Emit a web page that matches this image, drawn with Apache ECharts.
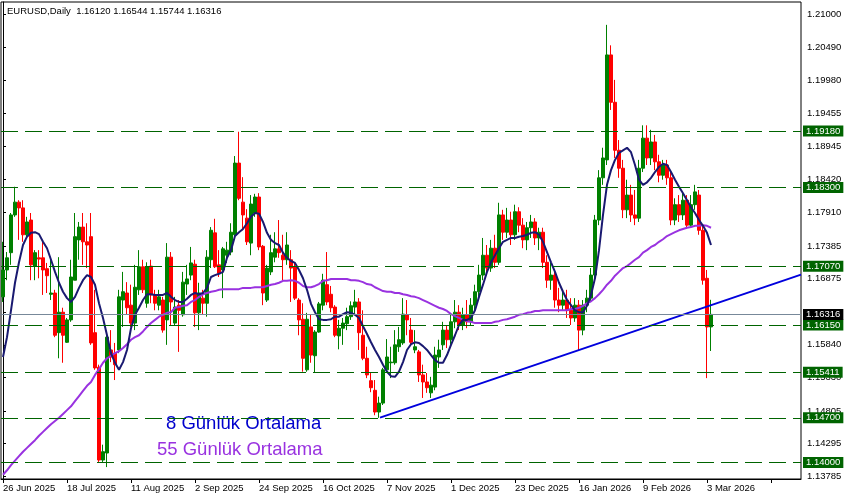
<!DOCTYPE html>
<html><head><meta charset="utf-8">
<script src="https://cdn.jsdelivr.net/npm/echarts@6/dist/echarts.min.js"></script>
<style>html,body{margin:0;padding:0;background:#fff}#c{width:847px;height:500px}</style>
</head><body><div id="c"></div>
<script>
const symbolName = 'EURUSD,Daily';
const lastQuote = [1.16120, 1.16544, 1.15744, 1.16316];
const dateLabels = ['26 Jun 2025','18 Jul 2025','11 Aug 2025','2 Sep 2025','24 Sep 2025','16 Oct 2025','7 Nov 2025','1 Dec 2025','23 Dec 2025','16 Jan 2026','9 Feb 2026','3 Mar 2026'];
const labelEvery = 16;
const slotCount = 200;

const open = [
1.1659,1.1701,1.1728,1.1787,1.1807,1.1798,1.1756,1.1779,1.1707,1.1720,
1.1720,1.1703,1.1663,1.1665,1.1603,1.1635,1.1588,1.1623,1.1685,1.1748,
1.1768,1.1745,1.1753,1.1603,1.1549,1.1404,1.1415,1.1576,1.1571,1.1576,
1.1654,1.1665,1.1646,1.1618,1.1670,1.1706,1.1649,1.1707,1.1662,1.1646,
1.1654,1.1623,1.1721,1.1618,1.1646,1.1631,1.1679,1.1693,1.1710,1.1634,
1.1657,1.1649,1.1717,1.1759,1.1709,1.1701,1.1724,1.1729,1.1756,1.1868,
1.1807,1.1782,1.1743,1.1790,1.1815,1.1738,1.1654,1.1698,1.1721,1.1734,
1.1724,1.1717,1.1717,1.1706,1.1654,1.1624,1.1545,1.1612,1.1567,1.1604,
1.1646,1.1678,1.1663,1.1643,1.1598,1.1610,1.1617,1.1628,1.1643,1.1651,
1.1599,1.1563,1.1528,1.1513,1.1479,1.1493,1.1545,1.1556,1.1556,1.1581,
1.1587,1.1631,1.1607,1.1576,1.1573,1.1537,1.1526,1.1509,1.1518,1.1565,
1.1584,1.1607,1.1592,1.1620,1.1635,1.1615,1.1631,1.1620,1.1646,1.1667,
1.1693,1.1724,1.1704,1.1735,1.1713,1.1787,1.1760,1.1779,1.1756,1.1792,
1.1771,1.1748,1.1767,1.1776,1.1751,1.1760,1.1713,1.1685,1.1693,1.1654,
1.1646,1.1654,1.1638,1.1626,1.1646,1.1607,1.1646,1.1657,1.1693,1.1779,
1.1845,1.1873,1.2037,1.1963,1.1888,1.1860,1.1795,1.1818,1.1787,1.1782,
1.1860,1.1907,1.1876,1.1901,1.1870,1.1849,1.1865,1.1845,1.1779,1.1803,
1.1787,1.1810,1.1771,1.1803,1.1818,1.1763,1.1688,1.16120];
const close = [
1.1701,1.1720,1.1787,1.1807,1.1798,1.1756,1.1776,1.1709,1.1728,1.1718,
1.1701,1.1692,1.1665,1.1599,1.1635,1.1599,1.1623,1.1690,1.1753,1.1768,
1.1745,1.1740,1.1587,1.1548,1.1404,1.1417,1.1596,1.1565,1.1553,1.1659,
1.1667,1.1642,1.1618,1.1674,1.1706,1.1670,1.1706,1.1662,1.1649,1.1659,
1.1607,1.1721,1.1651,1.1643,1.1638,1.1682,1.1687,1.1712,1.1634,1.1665,
1.1649,1.1721,1.1763,1.1706,1.1696,1.1734,1.1732,1.1760,1.1868,1.1813,
1.1787,1.1745,1.1804,1.1815,1.1737,1.1665,1.1704,1.1728,1.1734,1.1728,
1.1717,1.1740,1.1704,1.1657,1.1623,1.1563,1.1624,1.1568,1.1604,1.1648,
1.1685,1.1651,1.1642,1.1599,1.1610,1.1618,1.1628,1.1645,1.1651,1.1603,
1.1563,1.1537,1.1517,1.1479,1.1493,1.1545,1.1565,1.1557,1.1584,1.1592,
1.1632,1.1623,1.1588,1.1581,1.1537,1.1526,1.1517,1.1521,1.1568,1.1576,
1.1607,1.1592,1.1620,1.1635,1.1615,1.1631,1.1620,1.1646,1.1667,1.1693,
1.1724,1.1704,1.1735,1.1713,1.1787,1.1760,1.1779,1.1756,1.1792,1.1771,
1.1748,1.1767,1.1776,1.1751,1.1760,1.1713,1.1685,1.1693,1.1654,1.1646,
1.1654,1.1638,1.1626,1.1646,1.1607,1.1646,1.1657,1.1693,1.1779,1.1845,
1.1876,1.2037,1.1963,1.1888,1.1860,1.1795,1.1818,1.1787,1.1782,1.1860,
1.1907,1.1876,1.1901,1.1870,1.1849,1.1865,1.1845,1.1779,1.1803,1.1787,
1.1810,1.1771,1.1803,1.1823,1.1763,1.1685,1.1612,1.16316];
const low = [
1.1651,1.1685,1.1709,1.1784,1.1748,1.1745,1.1753,1.1685,1.1685,1.1688,
1.1662,1.1665,1.1654,1.1596,1.1563,1.1556,1.1587,1.1620,1.1685,1.1717,
1.1709,1.1704,1.1584,1.1545,1.1401,1.1401,1.1393,1.1557,1.1529,1.1571,
1.1612,1.1631,1.1612,1.1607,1.1662,1.1665,1.1642,1.1649,1.1638,1.1638,
1.1603,1.1584,1.1615,1.1615,1.1573,1.1628,1.1662,1.1685,1.1612,1.1607,
1.1631,1.1628,1.1704,1.1704,1.1690,1.1657,1.1712,1.1724,1.1753,1.1810,
1.1763,1.1740,1.1724,1.1784,1.1732,1.1646,1.1651,1.1693,1.1713,1.1720,
1.1685,1.1709,1.1651,1.1654,1.1599,1.1542,1.1542,1.1556,1.1540,1.1603,
1.1638,1.1646,1.1635,1.1596,1.1577,1.1584,1.1607,1.1623,1.1631,1.1576,
1.1560,1.1532,1.1510,1.1474,1.1470,1.1490,1.1542,1.1532,1.1553,1.1573,
1.1584,1.1599,1.1584,1.1571,1.1526,1.1501,1.1509,1.1501,1.1513,1.1548,
1.1576,1.1579,1.1584,1.1610,1.1607,1.1607,1.1610,1.1615,1.1638,1.1657,
1.1685,1.1693,1.1698,1.1704,1.1709,1.1748,1.1751,1.1740,1.1748,1.1760,
1.1735,1.1732,1.1751,1.1740,1.1732,1.1704,1.1673,1.1670,1.1642,1.1635,
1.1638,1.1626,1.1615,1.1620,1.1576,1.1599,1.1635,1.1651,1.1685,1.1771,
1.1834,1.1865,1.1951,1.1876,1.1845,1.1782,1.1782,1.1776,1.1771,1.1776,
1.1854,1.1865,1.1865,1.1857,1.1838,1.1842,1.1834,1.1771,1.1771,1.1776,
1.1779,1.1767,1.1767,1.1795,1.1756,1.1678,1.1532,1.15744];
const high = [
1.1745,1.1729,1.1790,1.1831,1.1810,1.1810,1.1784,1.1790,1.1732,1.1732,
1.1745,1.1712,1.1721,1.1670,1.1721,1.1642,1.1626,1.1717,1.1790,1.1776,
1.1790,1.1774,1.1790,1.1670,1.1553,1.1428,1.1599,1.1607,1.1587,1.1670,
1.1698,1.1682,1.1678,1.1709,1.1732,1.1717,1.1713,1.1717,1.1670,1.1670,
1.1659,1.1743,1.1729,1.1659,1.1654,1.1698,1.1709,1.1737,1.1717,1.1681,
1.1670,1.1732,1.1768,1.1781,1.1732,1.1737,1.1745,1.1774,1.1879,1.1917,
1.1846,1.1796,1.1818,1.1820,1.1821,1.1740,1.1709,1.1756,1.1760,1.1779,
1.1756,1.1760,1.1732,1.1713,1.1657,1.1649,1.1634,1.1631,1.1607,1.1651,
1.1695,1.1729,1.1676,1.1646,1.1623,1.1626,1.1642,1.1652,1.1670,1.1657,
1.1638,1.1581,1.1540,1.1529,1.1503,1.1548,1.1593,1.1581,1.1607,1.1612,
1.1657,1.1654,1.1626,1.1607,1.1576,1.1553,1.1540,1.1534,1.1581,1.1592,
1.1620,1.1615,1.1631,1.1654,1.1646,1.1642,1.1654,1.1657,1.1678,1.1709,
1.1751,1.1740,1.1748,1.1756,1.1806,1.1795,1.1798,1.1792,1.1803,1.1799,
1.1782,1.1776,1.1787,1.1782,1.1767,1.1767,1.1724,1.1713,1.1701,1.1673,
1.1667,1.1670,1.1657,1.1657,1.1654,1.1654,1.1670,1.1704,1.1787,1.1857,
1.1892,1.2084,1.2052,1.1998,1.1904,1.1873,1.1842,1.1834,1.1826,1.1873,
1.1927,1.1927,1.1920,1.1912,1.1881,1.1873,1.1873,1.1854,1.1813,1.1818,
1.1823,1.1818,1.1818,1.1834,1.1826,1.1771,1.1701,1.16544];
const ma8 = [
1.1565,1.1596,1.1638,1.1681,1.1713,1.1740,1.1753,1.1759,1.1760,1.1757,
1.1745,1.1735,1.1717,1.1698,1.1681,1.1667,1.1657,1.1651,1.1659,1.1673,
1.1685,1.1693,1.1690,1.1678,1.1649,1.1626,1.1599,1.1571,1.1556,1.1545,
1.1557,1.1576,1.1610,1.1631,1.1642,1.1654,1.1663,1.1663,1.1662,1.1662,
1.1662,1.1665,1.1659,1.1654,1.1651,1.1651,1.1656,1.1662,1.1665,1.1663,
1.1665,1.1673,1.1690,1.1693,1.1695,1.1698,1.1720,1.1732,1.1754,1.1760,
1.1765,1.1774,1.1784,1.1790,1.1789,1.1776,1.1759,1.1748,1.1743,1.1740,
1.1728,1.1720,1.1715,1.1712,1.1701,1.1688,1.1670,1.1648,1.1635,1.1624,
1.1623,1.1623,1.1624,1.1628,1.1628,1.1632,1.1635,1.1634,1.1631,1.1626,
1.1613,1.1601,1.1588,1.1576,1.1565,1.1553,1.1542,1.1535,1.1534,1.1542,
1.1557,1.1576,1.1585,1.1588,1.1587,1.1582,1.1576,1.1568,1.1560,1.1556,
1.1556,1.1568,1.1584,1.1599,1.1615,1.1623,1.1623,1.1626,1.1638,1.1659,
1.1678,1.1698,1.1713,1.1724,1.1735,1.1745,1.1748,1.1751,1.1751,1.1753,
1.1754,1.1756,1.1759,1.1760,1.1756,1.1745,1.1729,1.1713,1.1698,1.1681,
1.1667,1.1654,1.1646,1.1638,1.1635,1.1635,1.1645,1.1662,1.1688,1.1732,
1.1787,1.1834,1.1857,1.1873,1.1884,1.1888,1.1892,1.1885,1.1865,1.1842,
1.1834,1.1838,1.1845,1.1854,1.1862,1.1867,1.1865,1.1854,1.1842,1.1831,
1.1821,1.1810,1.1799,1.1790,1.1779,1.1770,1.1759,1.1740];
const ma55 = [
1.1381,1.1388,1.1396,1.1403,1.1410,1.1417,1.1423,1.1429,1.1435,1.1442,
1.1448,1.1454,1.1460,1.1465,1.1470,1.1476,1.1482,1.1488,1.1496,1.1504,
1.1512,1.1520,1.1526,1.1537,1.1546,1.1556,1.1563,1.1567,1.1571,1.1574,
1.1579,1.1585,1.1592,1.1596,1.1599,1.1605,1.1612,1.1618,1.1623,1.1628,
1.1631,1.1634,1.1635,1.1642,1.1643,1.1645,1.1646,1.1651,1.1654,1.1659,
1.1663,1.1665,1.1667,1.1668,1.1670,1.1671,1.1671,1.1671,1.1671,1.1671,
1.1673,1.1673,1.1673,1.1674,1.1674,1.1674,1.1676,1.1678,1.1679,1.1681,
1.1684,1.1684,1.1685,1.1684,1.1681,1.1676,1.1674,1.1674,1.1676,1.1679,
1.1684,1.1685,1.1687,1.1687,1.1687,1.1687,1.1687,1.1685,1.1685,1.1684,
1.1682,1.1679,1.1678,1.1674,1.1671,1.1668,1.1667,1.1667,1.1665,1.1665,
1.1663,1.1662,1.1660,1.1659,1.1657,1.1654,1.1651,1.1648,1.1645,1.1642,
1.1640,1.1637,1.1632,1.1629,1.1626,1.1623,1.1621,1.1620,1.1618,1.1618,
1.1618,1.1618,1.1618,1.1620,1.1621,1.1623,1.1624,1.1626,1.1628,1.1631,
1.1632,1.1634,1.1635,1.1637,1.1637,1.1638,1.1638,1.1638,1.1638,1.1638,
1.1638,1.1638,1.1640,1.1640,1.1642,1.1645,1.1649,1.1652,1.1657,1.1663,
1.1670,1.1678,1.1684,1.1692,1.1698,1.1704,1.1707,1.1712,1.1717,1.1721,
1.1728,1.1732,1.1737,1.1740,1.1745,1.1749,1.1754,1.1757,1.1760,1.1763,
1.1765,1.1767,1.1768,1.1770,1.1770,1.1771,1.1770,1.1767];

const levels = [1.1918, 1.1830, 1.1707, 1.1615, 1.15411, 1.1470, 1.1400];
const currentPrice = 1.16316;
const priceTicks = [1.13785,1.14295,1.14805,1.15330,1.15840,1.16350,1.16875,1.17385,1.17910,1.18420,1.18945,1.19455,1.19980,1.20490,1.21000];
const trendLine = [[94.25, 1.14703], [199.5, 1.16938]];
const legendTexts = ['8 Günlük Ortalama', '55 Günlük Ortalama'];

const FONT = 'Liberation Sans';
const categories = Array.from({length: slotCount}, (_, i) => String(i));
const candles = open.map((o, i) => [o, close[i], low[i], high[i]]);

const boxLabel = bg => ({show: true, position: 'end', distance: 2, formatter: p => Number(p.value).toFixed(5),
  backgroundColor: bg, color: '#fff', padding: [1, 3, 0, 3], fontSize: 9.5, fontFamily: FONT, lineHeight: 10});
const levelLines = levels.map(v => ({
  yAxis: v,
  lineStyle: {color: '#006400', type: [17, 7], width: 1},
  label: boxLabel('#006400')
}));
levelLines.push({
  yAxis: currentPrice,
  lineStyle: {color: '#778899', type: 'solid', width: 1},
  label: boxLabel('#000')
});

const chart = echarts.init(document.getElementById('c'), null, {renderer: 'canvas'});
chart.setOption({
  animation: false,
  backgroundColor: '#fff',
  grid: {left: 1, right: 46, top: 2, bottom: 21, show: true, borderColor: '#000', borderWidth: 1, containLabel: false},
  xAxis: [{
    type: 'category', data: categories, boundaryGap: true,
    axisLine: {show: true, lineStyle: {color: '#000', width: 1}},
    axisTick: {show: true, interval: i => i % labelEvery === 0, alignWithLabel: true, length: 4, lineStyle: {color: '#000'}},
    axisLabel: {interval: i => i % labelEvery === 0, formatter: (v, i) => dateLabels[i / labelEvery] || '',
                align: 'left', margin: 4, color: '#000', fontSize: 9.5, fontFamily: FONT},
    splitLine: {show: false}
  }, {
    type: 'value', min: -0.5, max: 199.5, show: false
  }],
  yAxis: [{
    type: 'value', position: 'right', min: 1.137438, max: 1.21197,
    axisLine: {show: true, lineStyle: {color: '#000', width: 1}},
    axisTick: {show: true, length: 3, customValues: priceTicks, lineStyle: {color: '#000'}},
    axisLabel: {customValues: priceTicks, formatter: v => v.toFixed(5), margin: 6, color: '#000', fontSize: 9.5, fontFamily: FONT},
    splitLine: {show: false}
  }],
  graphic: [
    {type: 'text', left: 7, top: 6, style: {text: symbolName + '  ' + lastQuote.map(v => v.toFixed(5)).join(' '), fill: '#000', font: '9.5px "' + FONT + '"'}},
    {type: 'text', x: 166, y: 424, style: {text: legendTexts[0], fill: '#0000cd', font: '18.5px "' + FONT + '"', verticalAlign: 'middle'}},
    {type: 'text', x: 157, y: 449.5, style: {text: legendTexts[1], fill: '#9932e0', font: '18.5px "' + FONT + '"', verticalAlign: 'middle'}}
  ],
  series: [
    {
      type: 'candlestick', data: candles, barWidth: 3, xAxisIndex: 0,
      itemStyle: {color: '#008000', color0: '#ff0000', borderColor: '#008000', borderColor0: '#ff0000', borderWidth: 1},
      markLine: {symbol: ['none', 'none'], silent: true, animation: false, precision: 5, data: levelLines}
    },
    {type: 'line', data: ma55, symbol: 'none', xAxisIndex: 0, lineStyle: {color: '#9932e0', width: 2}, itemStyle: {color: '#9932e0'}},
    {type: 'line', data: ma8, symbol: 'none', xAxisIndex: 0, lineStyle: {color: '#191970', width: 2}, itemStyle: {color: '#191970'}},
    {type: 'line', data: trendLine, symbol: 'none', xAxisIndex: 1, lineStyle: {color: '#0000dd', width: 2}, itemStyle: {color: '#0000dd'}}
  ]
});
</script></body></html>
